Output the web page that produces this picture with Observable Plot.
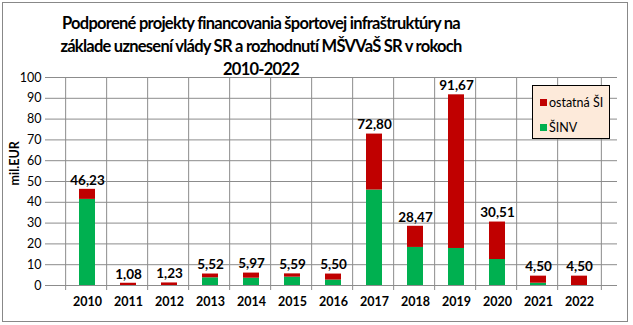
<!DOCTYPE html>
<html><head><meta charset="utf-8">
<script src="https://cdn.jsdelivr.net/npm/d3@7"></script>
<script src="https://cdn.jsdelivr.net/npm/@observablehq/plot@0.6"></script>
<style>
body{margin:0;background:#fff;}
#wrap{position:relative;width:633px;height:325px;font-family:Lato,"Liberation Sans",sans-serif;}
#frame{position:absolute;left:2px;top:2px;width:624px;height:318px;border:1px solid #888;box-sizing:content-box;pointer-events:none;}
#title{position:absolute;left:0;width:522px;top:12px;text-align:center;font-weight:bold;font-size:16.5px;letter-spacing:-0.75px;line-height:23px;color:#000;}
#legend{position:absolute;left:532px;top:85px;width:76px;height:52px;background:#FDEADA;border:1px solid #000;font-size:12.5px;}
#legend div{position:absolute;left:7px;display:flex;align-items:center;}
#legend span.sw{display:inline-block;width:7px;height:7px;margin-right:2px;}
svg{position:absolute;left:0;top:0;}
</style></head><body>
<div id="wrap">
<div id="chart"></div>
<div id="title"></div>
<div id="legend"></div>
<div id="frame"></div>
</div>
<script>
const years = ["2010","2011","2012","2013","2014","2015","2016","2017","2018","2019","2020","2021","2022"];
const totals = [46.23,1.08,1.23,5.52,5.97,5.59,5.50,72.80,28.47,91.67,30.51,4.50,4.50];
const sinv = [41.4,0,0,3.7,3.5,4.0,2.6,45.9,18.3,17.8,12.5,1.1,0];
const totalLabels = ["46,23","1,08","1,23","5,52","5,97","5,59","5,50","72,80","28,47","91,67","30,51","4,50","4,50"];
const seriesNames = ["ŠINV","ostatná ŠI"];
const seriesColors = ["#00B050","#C00000"];
const yTicks = [0,10,20,30,40,50,60,70,80,90,100];
const titleLines = ["Podporené projekty financovania športovej infraštruktúry na","základe uznesení vlády SR a rozhodnutí MŠVVaŠ SR v rokoch","2010-2022"];

document.getElementById("title").innerHTML = titleLines.join("<br>");

const data = [];
years.forEach((y,i)=>{
  data.push({year:y, series:seriesNames[0], value:sinv[i]});
  data.push({year:y, series:seriesNames[1], value:+(totals[i]-sinv[i]).toFixed(2)});
});
const labels = years.map((y,i)=>({year:y,total:totals[i],label:totalLabels[i]}));

const W=633,H=325,mL=49,mR=16,mT=77,mB=40;
const step=(W-mL-mR)/years.length;

const chart = Plot.plot({
  width:W,height:H,marginLeft:mL,marginRight:mR,marginTop:mT,marginBottom:mB,
  style:{fontFamily:"Lato, 'Liberation Sans', sans-serif",color:"#000",background:"transparent"},
  x:{domain:years,padding:0.6,label:null,axis:null},
  y:{domain:[0,100],ticks:yTicks,label:null,axis:null},
  color:{domain:seriesNames,range:seriesColors},
  marks:[
    Plot.gridY(yTicks,{stroke:"#8c8c8c",strokeOpacity:1}),
    Plot.ruleX(years,{x:d=>d,dx:-step/2,stroke:"#8c8c8c",insetBottom:-5}),
    Plot.ruleX([years[years.length-1]],{x:d=>d,dx:step/2,stroke:"#8c8c8c",insetBottom:-5}),
    Plot.ruleY([0],{stroke:"#8c8c8c"}),
    Plot.axisY(yTicks,{tickSize:4,stroke:"#8c8c8c",fontSize:12.5,tickPadding:4,label:null,fill:"#000"}),
    Plot.barY(data,Plot.stackY({x:"year",y:"value",fill:"series",order:seriesNames})),
    Plot.text(labels,{x:"year",y:"total",text:"label",dy:-9,fontWeight:"bold",fontSize:13.5,fill:"#000"}),
    Plot.axisX({tickSize:0,tickPadding:12,fontWeight:"bold",fontSize:12.5,label:null,fill:"#000"}),
    Plot.text(["mil.EUR"],{frameAnchor:"left",dx:-35,dy:4,rotate:-90,fontWeight:"bold",fontSize:12.5,fill:"#000"})
  ]
});
document.getElementById("chart").appendChild(chart);

const leg = document.getElementById("legend");
[[1,9],[0,34]].forEach(([i,top])=>{
  const d=document.createElement("div");
  d.style.top=top+"px";
  d.innerHTML=`<span class="sw" style="background:${seriesColors[i]}"></span>${seriesNames[i]}`;
  leg.appendChild(d);
});
</script>
</body></html>
